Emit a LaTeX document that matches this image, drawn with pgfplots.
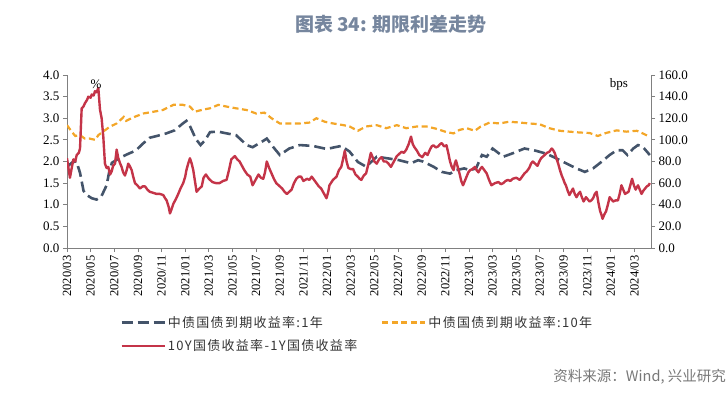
\documentclass[border=0pt]{standalone}
\usepackage{pgfplots}
\pgfplotsset{compat=1.18}
\usepackage{fontspec}
\setmainfont{Liberation Serif}
\newfontfamily\cjk{Noto Sans CJK SC}
\newfontfamily\cjkleg[LetterSpace=10]{Noto Sans CJK SC}
\definecolor{c1y}{RGB}{68,84,106}
\definecolor{c10y}{RGB}{243,166,40}
\definecolor{cspr}{RGB}{196,52,72}
\definecolor{ctitle}{RGB}{118,134,158}
\definecolor{caxis}{RGB}{128,128,128}
\definecolor{csrc}{RGB}{120,120,120}
\begin{document}
\begin{tikzpicture}[x=1pt,y=1pt]
\useasboundingbox (-67,-146) rectangle (659,248);
\pgfplotsset{
  common/.style={
    scale only axis, width=584pt, height=173pt,
    at={(0pt,0pt)}, anchor=south west,
    xmin=0, xmax=49.4,
    axis line style={caxis, line width=1pt},
    tick style={caxis, line width=0.8pt},
    tick align=outside, major tick length=4pt,
    /pgf/number format/assume math mode=true,
    ticklabel style={font=\fontsize{13}{15}\selectfont, text=black},
  }
}
\begin{axis}[common,
  ymin=0, ymax=4,
  ytick={0,0.5,...,4},
  axis y line*=left, axis x line*=bottom,
  yticklabel style={/pgf/number format/.cd, fixed, fixed zerofill, precision=1},
  xtick={0,2,...,48},
  xticklabels={2020/03,2020/05,2020/07,2020/09,2020/11,2021/01,2021/03,2021/05,2021/07,2021/09,2021/11,2022/01,2022/03,2022/05,2022/07,2022/09,2022/11,2023/01,2023/03,2023/05,2023/07,2023/09,2023/11,2024/01,2024/03},
  xticklabel style={rotate=90, anchor=east, font=\fontsize{12.5}{14}\selectfont},
  legend columns=2,
  legend cell align=left,
  legend image code/.code={\draw[#1] (0pt,0pt) -- (43pt,0pt);},
  legend style={at={(axis description cs:0,0)}, anchor=north west, xshift=50pt, yshift=-64pt,
    draw=none, fill=none, font=\cjkleg\fontsize{13}{15}\selectfont, text=black!80,
    row sep=7pt, /tikz/every even column/.append style={column sep=22pt}},
]
\addplot[c1y, line width=2.6pt, dash pattern=on 11pt off 5pt] coordinates {
(0,1.88)(0.5,1.99)(0.8,2.0)(1.1,1.74)(1.4,1.32)(1.7,1.22)(2.1,1.15)(2.5,1.12)(2.9,1.19)(3.35,1.45)(3.6,1.8)(3.8,1.97)(4.5,2.09)(5.2,2.18)(5.8,2.25)(6.45,2.42)(7.0,2.55)(7.6,2.59)(8.4,2.65)(9.1,2.72)(9.8,2.88)(10.1,2.94)(10.4,2.82)(10.9,2.52)(11.3,2.38)(11.7,2.5)(12.1,2.68)(12.8,2.69)(13.5,2.65)(14.3,2.61)(15.2,2.38)(15.7,2.33)(16.5,2.46)(16.9,2.53)(17.4,2.35)(18.0,2.15)(18.8,2.30)(19.7,2.38)(20.8,2.36)(21.95,2.29)(23.2,2.36)(23.9,2.23)(24.6,1.99)(25.3,1.88)(26.2,2.11)(27.2,2.07)(28.1,2.03)(29.1,1.96)(29.7,2.03)(30.1,2.0)(31.0,1.88)(31.7,1.76)(32.4,1.72)(32.9,1.80)(33.6,1.84)(34.1,1.80)(34.6,1.84)(35.1,2.15)(35.5,2.11)(36.0,2.30)(36.9,2.11)(37.7,2.19)(38.7,2.30)(39.5,2.26)(40.3,2.2)(40.8,2.15)(41.7,2.03)(42.5,1.92)(43.1,1.84)(43.8,1.76)(44.5,1.84)(45.2,1.99)(45.9,2.15)(46.5,2.26)(47.0,2.26)(47.4,2.15)(47.9,2.30)(48.3,2.38)(48.7,2.34)(49.3,2.15)
};
\addlegendentry{中债国债到期收益率:1年}
\addplot[c10y, line width=2.2pt, dash pattern=on 6pt off 3.5pt] coordinates {
(0,2.84)(0.4,2.69)(0.7,2.59)(1.1,2.61)(1.5,2.53)(1.9,2.53)(2.4,2.5)(2.65,2.61)(3.1,2.70)(3.6,2.8)(4.2,2.88)(4.8,3.03)(5.0,2.94)(5.6,3.02)(6.45,3.11)(7.3,3.15)(8.1,3.19)(9.0,3.31)(9.8,3.31)(10.4,3.27)(10.8,3.15)(11.5,3.2)(12.1,3.23)(12.8,3.31)(13.5,3.27)(14.3,3.23)(15.2,3.19)(16.0,3.11)(16.7,3.13)(17.3,3.0)(18.0,2.88)(18.8,2.88)(19.7,2.88)(20.5,2.9)(21.1,3.0)(21.8,2.92)(22.5,2.88)(23.4,2.84)(23.9,2.81)(24.6,2.71)(25.3,2.81)(26.2,2.84)(27.0,2.77)(27.9,2.84)(28.7,2.77)(29.6,2.81)(30.4,2.81)(31.2,2.76)(32.1,2.68)(32.7,2.65)(33.2,2.73)(33.8,2.77)(34.5,2.71)(35.0,2.81)(35.75,2.9)(36.6,2.88)(37.4,2.92)(38.3,2.9)(39.1,2.88)(40.0,2.86)(40.8,2.77)(41.7,2.71)(42.5,2.69)(43.4,2.67)(44.2,2.66)(44.9,2.59)(45.6,2.66)(46.5,2.72)(47.3,2.69)(48.2,2.71)(48.7,2.65)(49.3,2.57)
};
\addlegendentry{中债国债到期收益率:10年}
\addlegendimage{cspr, line width=2.4pt}
\addlegendentry{10Y国债收益率-1Y国债收益率}
\end{axis}
\begin{axis}[common,
  ymin=0, ymax=160,
  ytick={0,20,...,160},
  axis y line*=right, axis x line=none,
  yticklabel style={/pgf/number format/.cd, fixed, fixed zerofill, precision=1},
]
\addplot[cspr, line width=2.4pt, line join=round] coordinates {
(0,83)(0.15,72)(0.25,65)(0.4,74)(0.54,82)(0.7,80)(0.82,86)(1.0,88)(1.1,92)(1.24,129)(1.4,131)(1.52,134)(1.7,137)(1.8,140)(2.0,139)(2.09,142)(2.25,141)(2.37,145)(2.5,144)(2.65,148)(2.79,128)(2.93,120)(3.07,103)(3.21,78)(3.35,74)(3.49,75)(3.65,68)(3.78,71)(3.9,76)(4.06,78)(4.2,91)(4.34,83)(4.5,78)(4.62,75)(4.75,70)(4.9,67)(5.05,72)(5.18,78)(5.3,76)(5.47,72)(5.6,66)(5.75,60)(5.95,58)(6.17,55)(6.4,57)(6.6,57)(6.8,54)(7.0,52)(7.3,51)(7.58,50)(7.85,50)(8.14,49)(8.3,46)(8.43,44)(8.6,38)(8.71,32)(8.85,36)(9.0,41)(9.2,45)(9.41,50)(9.6,55)(9.83,60)(10.0,66)(10.1,72)(10.25,78)(10.4,83)(10.55,78)(10.68,72)(10.85,60)(10.96,52)(11.2,55)(11.4,57)(11.55,65)(11.75,68)(12.0,64)(12.3,61)(12.6,60)(12.9,60)(13.2,62)(13.5,63)(13.7,72)(13.9,82)(14.2,85)(14.4,82)(14.6,80)(14.8,76)(15.0,72)(15.25,68)(15.5,66)(15.7,58)(15.95,63)(16.2,68)(16.4,65)(16.6,64)(16.75,70)(16.9,80)(17.1,74)(17.3,69)(17.5,64)(17.7,60)(18.0,57)(18.2,55)(18.4,52)(18.6,50)(18.8,52)(19.0,54)(19.2,60)(19.4,64)(19.6,66)(19.8,66)(20.0,62)(20.3,64)(20.5,63)(20.7,66)(20.9,63)(21.1,60)(21.3,57)(21.5,55)(21.75,50)(21.95,46)(22.1,52)(22.2,58)(22.5,63)(22.8,66)(23.0,72)(23.2,75)(23.35,82)(23.5,90)(23.65,80)(23.8,74)(24.0,73)(24.2,73)(24.4,68)(24.6,66)(24.75,64)(24.9,63)(25.1,67)(25.3,69)(25.5,78)(25.7,88)(25.85,84)(26.0,80)(26.2,78)(26.4,82)(26.6,84)(26.8,80)(27.0,80)(27.2,78)(27.4,75)(27.65,80)(27.9,85)(28.1,87)(28.3,89)(28.5,88)(28.7,91)(28.9,96)(29.1,103)(29.25,96)(29.4,93)(29.6,90)(29.8,86)(30.05,84)(30.3,88)(30.5,86)(30.7,91)(30.85,94)(31.0,95)(31.2,93)(31.4,94)(31.55,96)(31.7,97)(31.9,94)(32.1,95)(32.25,88)(32.4,80)(32.55,75)(32.7,72)(32.8,78)(32.9,81)(33.05,75)(33.2,69)(33.35,62)(33.5,58)(33.65,62)(33.8,66)(33.95,70)(34.1,72)(34.3,73)(34.5,75)(34.65,72)(34.8,70)(34.95,73)(35.1,75)(35.3,72)(35.5,69)(35.7,63)(35.9,58)(36.2,60)(36.5,61)(36.7,59)(36.9,60)(37.1,62)(37.3,63)(37.5,62)(37.7,64)(38.0,65)(38.3,63)(38.5,66)(38.7,69)(38.9,71)(39.1,74)(39.25,78)(39.4,80)(39.6,78)(39.8,76)(39.95,80)(40.1,83)(40.4,86)(40.6,88)(40.8,89)(41.0,92)(41.1,91)(41.25,88)(41.4,83)(41.55,78)(41.7,72)(41.85,67)(42.0,63)(42.1,60)(42.2,58)(42.35,53)(42.5,49)(42.65,52)(42.8,55)(42.95,50)(43.1,47)(43.25,50)(43.4,52)(43.55,47)(43.7,43)(43.8,45)(43.9,47)(44.05,45)(44.2,43)(44.35,44)(44.5,46)(44.65,50)(44.8,52)(44.95,42)(45.1,34)(45.2,31)(45.3,27)(45.45,31)(45.6,34)(45.75,40)(45.9,47)(46.05,45)(46.2,43)(46.4,44)(46.6,44)(46.75,50)(46.9,58)(47.05,54)(47.2,50)(47.35,51)(47.5,52)(47.65,58)(47.8,64)(47.95,58)(48.1,54)(48.2,56)(48.3,58)(48.45,54)(48.6,50)(48.75,53)(48.9,55)(49.05,57)(49.2,58)(49.3,60)
};
\end{axis}
\node[font=\fontsize{13}{15}\selectfont] at (29,164) {\%};
\node[font=\fontsize{13}{15}\selectfont] at (552,164) {bps};
\node[font=\cjk\bfseries\fontsize{19}{21}\selectfont, text=ctitle] at (324,224) {图表 34: 期限利差走势};
\node[font=\cjk\fontsize{14.5}{16}\selectfont, text=csrc, anchor=east, inner sep=0pt] at (659,-129) {资料来源：Wind, 兴业研究};
\end{tikzpicture}
\end{document}
